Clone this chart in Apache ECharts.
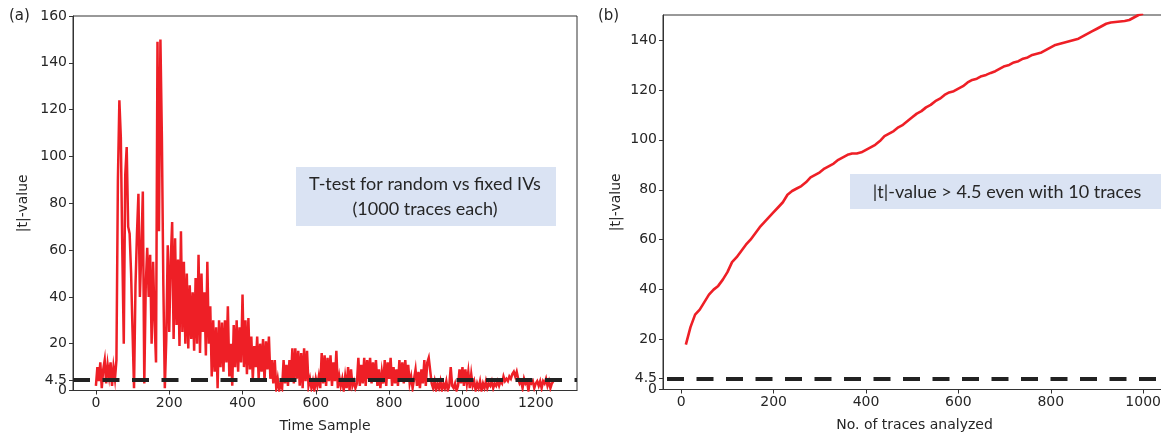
<!DOCTYPE html>
<html>
<head>
<meta charset="utf-8">
<script src="https://cdn.jsdelivr.net/npm/echarts@6/dist/echarts.min.js"></script>
<style>
html,body{margin:0;padding:0;background:#fff;}
#chart{width:1161px;height:433px;}
</style>
</head>
<body>
<div id="chart"></div>
<script>
// ---------- Data ----------
// (a) |t|-value per time sample, one reading every SAMPLE_STEP samples (starting at sample 0)
const SAMPLE_STEP = 4;
const tValuesA = [
  2, 10, 4, 12, 1, 9, 13, 3, 11, 6,          // 0
  12, 2, 10, 5, 13, 90, 124, 108, 60, 20,    // 40
  92, 104, 70, 67, 50, 25, 1, 45, 67, 84,    // 80
  40, 60, 85, 3, 45, 61, 40, 58, 20, 55,     // 120
  30, 12, 149, 68, 150, 108, 45, 1, 22, 62,  // 160
  25, 55, 72, 22, 65, 28, 56, 19, 68, 25,    // 200
  55, 20, 50, 18, 45, 22, 42, 17, 48, 20,    // 240
  58, 16, 50, 25, 42, 15, 55, 20, 36, 6,     // 280
  30, 8, 27, 1, 30, 10, 29, 8, 30, 12,       // 320
  36, 6, 20, 2, 28, 10, 30, 8, 27, 12,       // 360
  41, 10, 30, 7, 31, 9, 23, 5, 19, 10,       // 400
  23, 5, 20, 8, 22, 4, 21, 9, 23, 5,         // 440
  13, 3, 13, 1, 5, 0, 3, 1, 13, 3,           // 480
  11, 2, 13, 4, 18, 3, 18, 5, 17, 2,         // 520
  16, 1, 18, 4, 17, 2, 5, 1, 4, 0,           // 560
  5, 2, 6, 1, 16, 3, 15, 2, 14, 4,           // 600
  15, 2, 12, 4, 17, 1, 6, 2, 5, 0,           // 640
  6, 1, 10, 0, 9, 2, 4, 1, 3, 14,            // 680
  2, 11, 3, 14, 2, 13, 5, 14, 3, 12,         // 720
  4, 13, 2, 9, 1, 8, 3, 13, 2, 12,           // 760
  5, 14, 2, 10, 3, 9, 2, 13, 4, 12,          // 800
  3, 13, 4, 11, 3, 6, 1, 5, 9, 2,            // 840
  8, 1, 9, 3, 13, 2, 12, 14, 14, 3,          // 880
  1, 4, 0, 3, 1, 4, 0, 3, 1, 4,              // 920
  0, 2, 10, 2, 1, 3, 0, 2, 9, 3,             // 960
  10, 2, 9, 3, 8, 1, 7, 2, 4, 0,             // 1000
  3, 1, 4, 0, 3, 1, 4, 1, 3, 2,              // 1040
  4, 1, 3, 2, 4, 2, 4, 3, 6, 4,              // 1080
  5, 4, 6, 5, 7, 8, 6, 8, 5, 3,              // 1120
  4, 1, 5, 3, 4, 0, 4, 3, 4, 1,              // 1160
  3, 4, 2, 4, 1, 4, 3, 5, 2, 4,              // 1200
  1, 3, 4                                    // 1240
];

// (b) |t|-value vs number of traces analyzed
const tracesB = [10,20,30,40,50,60,70,80,90,100,110,120,130,140,150,160,170,180,190,200,
  210,220,230,240,250,260,270,280,290,300,310,320,330,340,350,360,370,380,390,400,
  410,420,430,440,450,460,470,480,490,500,510,520,530,540,550,560,570,580,590,600,
  610,620,630,640,650,660,670,680,690,700,710,720,730,740,750,760,770,780,790,800,
  810,820,830,840,850,860,870,880,890,900,910,920,930,940,950,960,970,980,990,1000];
const tValuesB = [18,25,30,32,35,38,40,41.5,44,47,51,53,55.5,58,60,62.5,65,67,69,71,
  73,75,78,79.5,80.5,81.5,83,85,86,87,88.5,89.5,90.5,92,93,94,94.5,94.5,95,96,
  97,98,99.5,101.5,102.5,103.5,105,106,107.5,109,110.5,111.5,113,114,115.5,116.5,118,119,119.5,120.5,
  121.5,123,124,124.5,125.5,126,126.8,127.5,128.5,129.5,130,131,131.5,132.5,133,134,134.5,135,136,137,
  138,138.5,139,139.5,140,140.5,141.5,142.5,143.5,144.5,145.5,146.5,147,147.2,147.4,147.6,148,149,150,150.5];

const threshold = 4.5;
const yTicksA = [0, 20, 40, 60, 80, 100, 120, 140, 160];
const yTicksB = [0, 20, 40, 60, 80, 100, 120, 140];
const thresholdTick = [4.5];
const xTicksA = [0, 200, 400, 600, 800, 1000, 1200];
const xTicksB = [0, 200, 400, 600, 800, 1000];

// ---------- Build ----------
const dataA = tValuesA.map((v, i) => [i * SAMPLE_STEP, v]);
const dataB = tracesB.map((x, i) => [x, tValuesB[i]]);

const RED = '#ee1f26';
const TXT = '#262626';
const AX = '#333333';
const FONT = 'DejaVu Sans';
const plain = v => String(v);

function xAxisCfg(gridIndex, min, max, ticks, name) {
  return {
    type: 'value', gridIndex, min, max, name,
    nameLocation: 'middle', nameGap: 29,
    nameTextStyle: {color: TXT, fontSize: 14, fontFamily: FONT},
    axisLine: {show: true, onZero: false, lineStyle: {color: AX, width: 1}},
    axisTick: {show: true, length: 4, customValues: ticks, lineStyle: {color: AX}},
    axisLabel: {customValues: ticks, formatter: plain, color: TXT, fontSize: 14, fontFamily: FONT,
      margin: 6, hideOverlap: false, showMinLabel: true, showMaxLabel: true},
    splitLine: {show: false}
  };
}
function yAxisCfg(gridIndex, min, max, ticks, gap, withName) {
  return {
    type: 'value', gridIndex, min, max, position: 'left', offset: 0,
    name: withName ? '|t|-value' : '',
    nameLocation: 'middle', nameGap: gap, nameRotate: 90,
    nameTextStyle: {color: TXT, fontSize: 14, fontFamily: FONT},
    axisLine: {show: withName, onZero: false, lineStyle: {color: AX, width: 1}},
    axisTick: {show: true, length: 4, customValues: ticks, lineStyle: {color: AX}},
    axisLabel: {customValues: ticks, formatter: plain, color: TXT, fontSize: 14, fontFamily: FONT,
      margin: 6, hideOverlap: false, showMinLabel: true, showMaxLabel: true},
    splitLine: {show: false}
  };
}
function thresholdLine(offset) {
  return {
    silent: true, symbol: 'none', label: {show: false},
    lineStyle: {color: '#222', width: 4, type: [17, 12.5], dashOffset: offset},
    data: [{yAxis: threshold}]
  };
}

const option = {
  animation: false,
  backgroundColor: '#fff',
  title: [
    {text: '(a)', left: 9, top: 9, padding: 0, textStyle: {fontSize: 15, fontWeight: 'normal', color: TXT, fontFamily: FONT}},
    {text: '(b)', left: 598, top: 9, padding: 0, textStyle: {fontSize: 15, fontWeight: 'normal', color: TXT, fontFamily: FONT}}
  ],
  grid: [
    {left: 73, top: 16, width: 504, height: 374.5, containLabel: false, outerBoundsMode: 'none',
     show: true, borderColor: AX, borderWidth: 1, backgroundColor: 'transparent'},
    {left: 663, top: 15, width: 503, height: 374.5, containLabel: false, outerBoundsMode: 'none',
     show: true, borderColor: AX, borderWidth: 1, backgroundColor: 'transparent'}
  ],
  xAxis: [
    xAxisCfg(0, -62.5, 1312.5, xTicksA, 'Time Sample'),
    xAxisCfg(1, -39.5, 1049.5, xTicksB, 'No. of traces analyzed')
  ],
  yAxis: [
    yAxisCfg(0, 0, 160, yTicksA, 43, true),
    yAxisCfg(1, 0, 150, yTicksB, 40, true),
    yAxisCfg(0, 0, 160, thresholdTick, 43, false),
    yAxisCfg(1, 0, 150, thresholdTick, 40, false)
  ],
  series: [
    {type: 'line', xAxisIndex: 0, yAxisIndex: 0, data: dataA, showSymbol: false, clip: true,
     lineStyle: {color: RED, width: 2.5, join: 'miter'}, itemStyle: {color: RED},
     markLine: thresholdLine(0), z: 2},
    {type: 'line', xAxisIndex: 1, yAxisIndex: 1, data: dataB, showSymbol: false, clip: true, smooth: false,
     lineStyle: {color: RED, width: 2.6}, itemStyle: {color: RED},
     markLine: thresholdLine(25.5), z: 2}
  ],
  graphic: [
    {type: 'rect', left: 296, top: 167, z: 10, shape: {width: 260, height: 59}, style: {fill: '#dae3f3'}},
    {type: 'text', x: 425, y: 197, z: 11, style: {text: 'T-test for random vs fixed IVs\n(1000 traces each)',
      textAlign: 'center', textVerticalAlign: 'middle', font: '18px Lato', lineHeight: 25, fill: TXT}},
    {type: 'rect', left: 850, top: 174, z: 10, shape: {width: 320, height: 35}, style: {fill: '#dae3f3'}},
    {type: 'text', x: 1007, y: 192, z: 11, style: {text: '|t|-value > 4.5 even with 10 traces',
      textAlign: 'center', textVerticalAlign: 'middle', font: '18px Lato', fill: TXT}}
  ]
};

const chart = echarts.init(document.getElementById('chart'), null, {renderer: 'canvas'});
chart.setOption(option);
</script>
</body>
</html>
